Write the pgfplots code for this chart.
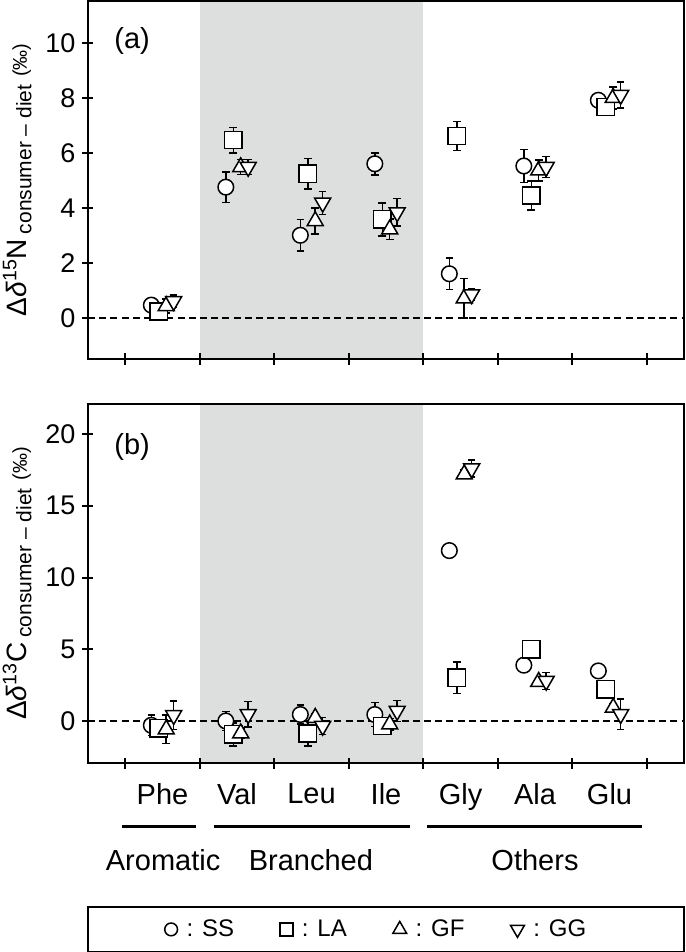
\documentclass[border=0pt]{standalone}
\usepackage{fontspec}
\setmainfont{Liberation Sans}
\setsansfont{Liberation Sans}
\usepackage{pgfplots}
\usepackage{pgfplotstable}
\pgfplotsset{compat=1.18}
\definecolor{bandgray}{RGB}{221,223,222}

\pgfplotstableread{
x y e
0.35 0.48 0.22
1.35 4.77 0.55
2.35 3.02 0.58
3.35 5.62 0.40
4.35 1.62 0.58
5.35 5.54 0.60
6.35 7.93 0.25
}\aSS
\pgfplotstableread{
x y e
0.45 0.25 0.25
1.45 6.48 0.46
2.45 5.26 0.55
3.45 3.60 0.60
4.45 6.63 0.53
5.45 4.47 0.53
6.45 7.68 0.30
}\aLA
\pgfplotstableread{
x y e
0.55 0.45 0.25
1.55 5.50 0.27
2.55 3.54 0.48
3.55 3.24 0.37
4.55 0.73 0.71
5.55 5.38 0.38
6.55 8.02 0.40
}\aGF
\pgfplotstableread{
x y e
0.65 0.62 0.22
1.65 5.50 0.27
2.65 4.20 0.42
3.65 3.85 0.50
4.65 0.87 0.22
5.65 5.50 0.38
6.65 8.12 0.48
}\aGG
\pgfplotstableread{
x y e
0.35 -0.30 0.70
1.35 0.00 0.65
2.35 0.45 0.65
3.35 0.45 0.85
4.35 11.88 0.35
5.35 3.89 0.20
6.35 3.49 0.20
}\bSS
\pgfplotstableread{
x y e
0.45 -0.50 0.60
1.45 -0.93 0.80
2.45 -0.88 0.86
3.45 -0.35 0.60
4.45 3.02 1.10
5.45 5.00 0.60
6.45 2.21 0.20
}\bLA
\pgfplotstableread{
x y e
0.55 -0.58 1.00
1.55 -0.85 0.35
2.55 0.23 0.30
3.55 -0.23 0.40
4.55 17.20 0.30
5.55 2.74 0.30
6.55 0.93 0.30
}\bGF
\pgfplotstableread{
x y e
0.65 0.40 1.00
1.65 0.47 0.90
2.65 -0.35 0.60
3.65 0.70 0.74
4.65 17.60 0.60
5.65 2.79 0.58
6.65 0.47 1.05
}\bGG

\pgfplotsset{
  panel/.style={
    scale only axis, width=298pt,
    xmin=-0.5, xmax=7.5,
    axis line style={line width=1pt},
    tick align=center,
    major tick length=5.5pt, minor tick length=5.5pt,
    every tick/.style={line width=1pt, black},
    xtick pos=bottom, ytick pos=left,
    xtick={0.5,1.5,...,6.5},
    major x tick style={draw=none},
    minor xtick={0,1,...,7},
    axis on top,
    clip=false,
    yticklabel style={font=\fontsize{13.5}{13.5}\selectfont},
    xticklabel style={font=\fontsize{14.5}{14.5}\selectfont, yshift=-4pt},
    /pgf/number format/assume math mode=true,
    every axis y label/.style={at={(axis description cs:-0.094,0.5)}, rotate=90, anchor=south, inner sep=0pt},
  },
  errs/.style={
    error bars/y dir=both, error bars/y explicit,
    error bars/error bar style={line width=0.75pt, black, solid},
    error bars/error mark options={rotate=90, mark size=1.9pt, line width=0.75pt, black, solid},
  },
  mk/.style={only marks, forget plot, black, line width=0.75pt, mark options={fill=white, draw=black, line width=0.75pt, solid}},
  pSS/.style={mk, mark=*, mark size=3.9pt},
  pLA/.style={mk, mark=square*, mark size=4.3pt},
  pGF/.style={mk, mark=triangle*, mark size=4.6pt},
  pGG/.style={mk, mark=triangle*, mark size=4.6pt, mark options={rotate=180, fill=white, draw=black, line width=0.75pt, solid}},
}

\begin{document}
\begin{tikzpicture}
\path[use as bounding box] (-44pt,0.5pt) rectangle (298.5pt,-475.5pt);
% ---------- panel (a)
\begin{axis}[panel, at={(0,0)}, anchor=north west, height=179pt,
  ymin=-1.48, ymax=11.54, ytick={0,2,...,10},
  xticklabels={},
  ylabel={\fontsize{14}{17}\selectfont Δ\textit{δ}\textsuperscript{15}N\,\raisebox{-0.3ex}{\fontsize{10.5}{12}\selectfont consumer – diet}\ \fontsize{10}{12}\selectfont(‰)},
]
\fill[bandgray] (axis cs:1,-1.48) rectangle (axis cs:4,11.54);
\addplot[forget plot, black, line width=1pt, dash pattern=on 3.5pt off 2.1pt] coordinates {(-0.5,0) (7.5,0)};
\addplot[pSS, errs] table[x=x, y=y, y error=e] {\aSS};
\addplot[pLA, errs] table[x=x, y=y, y error=e] {\aLA};
\addplot[pGF, errs] table[x=x, y=y, y error=e] {\aGF};
\addplot[pGG, errs] table[x=x, y=y, y error=e] {\aGG};
\node[font=\fontsize{14.5}{14.5}\selectfont] at (axis description cs:0.074,0.887) {(a)};
\end{axis}
% ---------- panel (b)
\begin{axis}[panel, at={(0,-201.5pt)}, anchor=north west, height=179.5pt,
  ymin=-2.93, ymax=22.1, ytick={0,5,...,20},
  xticklabels={Phe,Val,Leu,Ile,Gly,Ala,Glu},
  ylabel={\fontsize{14}{17}\selectfont Δ\textit{δ}\textsuperscript{13}C\,\raisebox{-0.3ex}{\fontsize{10.5}{12}\selectfont consumer – diet}\ \fontsize{10}{12}\selectfont(‰)},
  legend columns=4,
  legend style={at={(axis description cs:0.118,-0.4635)}, anchor=west, draw=none, fill=none,
    font=\fontsize{12}{12}\selectfont,
    /tikz/every even column/.append style={column sep=21pt}},
  legend image code/.code={\draw[#1] plot coordinates {(3pt,0pt)};},
]
\fill[bandgray] (axis cs:1,-2.93) rectangle (axis cs:4,22.1);
\addplot[forget plot, black, line width=1pt, dash pattern=on 3.5pt off 2.1pt] coordinates {(-0.5,0) (7.5,0)};
\addplot[pSS, errs] table[x=x, y=y, y error=e] {\bSS};
\addplot[pLA, errs] table[x=x, y=y, y error=e] {\bLA};
\addplot[pGF, errs] table[x=x, y=y, y error=e] {\bGF};
\addplot[pGG, errs] table[x=x, y=y, y error=e] {\bGG};
\node[font=\fontsize{14.5}{14.5}\selectfont] at (axis description cs:0.074,0.879) {(b)};
% groups
\draw[line width=1.5pt] (axis description cs:0.057,-0.1755) -- (axis description cs:0.182,-0.1755);
\draw[line width=1.5pt] (axis description cs:0.211,-0.1755) -- (axis description cs:0.540,-0.1755);
\draw[line width=1.5pt] (axis description cs:0.569,-0.1755) -- (axis description cs:0.930,-0.1755);
\node[font=\fontsize{14.5}{14.5}\selectfont] at (axis description cs:0.126,-0.270) {Aromatic};
\node[font=\fontsize{14.5}{14.5}\selectfont] at (axis description cs:0.374,-0.270) {Branched};
\node[font=\fontsize{14.5}{14.5}\selectfont] at (axis description cs:0.750,-0.270) {Others};
\draw[line width=1pt] (axis description cs:0,-0.401) rectangle (axis description cs:1,-0.5256);
\addlegendimage{only marks, mark=*, mark size=3.2pt, mark options={fill=white, draw=black, line width=0.75pt}}
\addlegendentry{\hspace*{2.5pt}: SS}
\addlegendimage{only marks, mark=square*, mark size=3.2pt, mark options={fill=white, draw=black, line width=0.75pt}}
\addlegendentry{\hspace*{2.5pt}: LA}
\addlegendimage{only marks, mark=triangle*, mark size=4pt, mark options={fill=white, draw=black, line width=0.75pt}}
\addlegendentry{\hspace*{2.5pt}: GF}
\addlegendimage{only marks, mark=triangle*, mark size=4pt, mark options={rotate=180, fill=white, draw=black, line width=0.75pt}}
\addlegendentry{\hspace*{2.5pt}: GG}
\end{axis}
\end{tikzpicture}
\end{document}
